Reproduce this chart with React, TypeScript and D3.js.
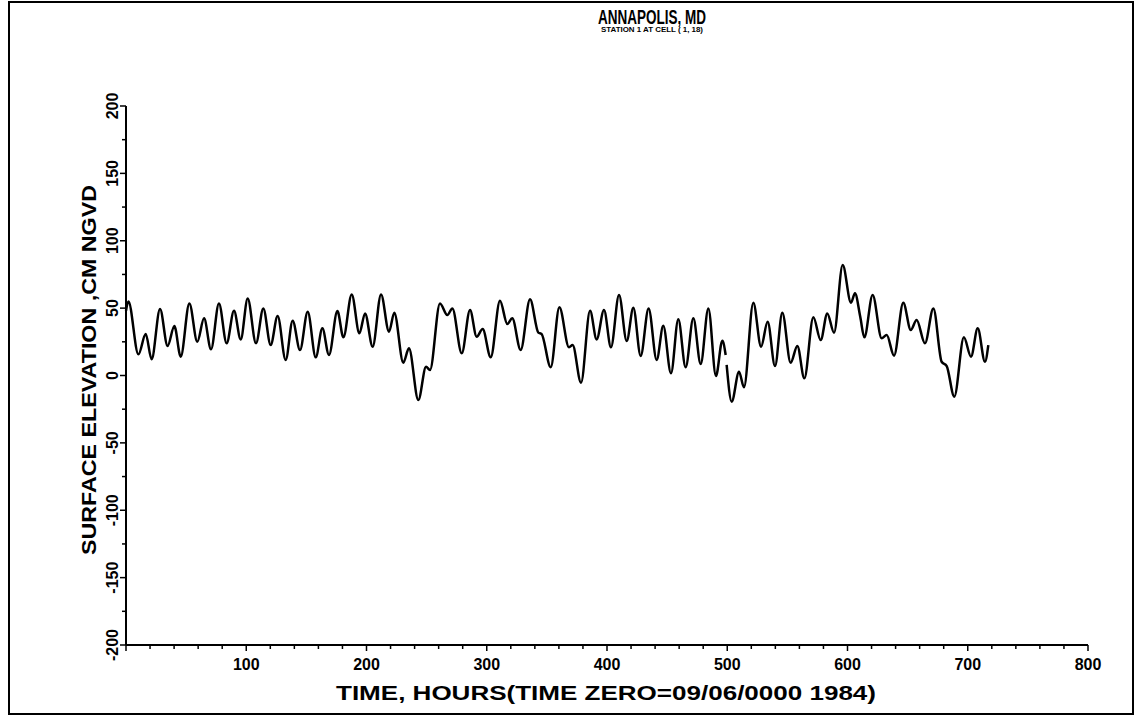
import React from "react";
import * as d3 from "d3";

// hours / elevation (cm NGVD) read at the turning points of the trace
const hoursA = [0, 2, 10.3, 16.4, 21.3, 28.3, 34.6, 40.2, 45.5, 52.7, 59.3, 64.9, 70.7, 77.3, 83.7, 89.8, 95.4, 101.2, 108.1, 114.2, 120.3, 126.1, 132.8, 138.6, 144.7, 151.1, 157.8, 163.3, 168.8, 175.8, 180.8, 187.7, 194.1, 198.8, 205.1, 212.1, 218.7, 223.1, 230.6, 235.3, 243.1, 249.5, 252.8, 261.1, 267.2, 271.4, 279.2, 286.1, 291.6, 296.6, 303.3, 311, 317.1, 321.2, 328.2, 336, 342.9, 345.6, 353.2, 360.4, 368.4, 371.4, 378.4, 385.9, 391.4, 397.5, 403.3, 410, 416.4, 421.9, 428, 434.6, 441.3, 446.8, 453.2, 459.3, 465.4, 471.8, 477.9, 484.3, 490.6, 495.9, 498.7];
const elevA = [48, 55, 15.7, 30.8, 12, 49.3, 21.9, 36.7, 14, 53.5, 25, 42.4, 19.4, 53.5, 23.9, 48, 26.8, 57.2, 23.9, 49.8, 22.6, 44.1, 11.5, 40.7, 18.9, 47.3, 13.5, 35, 15.2, 47.8, 28.3, 60.2, 31.3, 46.1, 21.4, 60.2, 32.5, 46.6, 9.5, 20.2, -18.2, 6.5, 4.1, 53.5, 44.9, 49.8, 16.5, 48.6, 28.8, 34.5, 13.5, 55.5, 38.2, 42.4, 18.9, 56.5, 31.8, 30.8, 6.1, 50.6, 20.9, 22.6, -5.3, 48, 26.8, 48.6, 20.9, 59.7, 25.6, 50.3, 14.5, 49.8, 11.5, 36.9, 1.6, 41.7, 6.1, 42.4, 8.5, 49.8, -0.4, 25.8, 15.2];

const hoursB = [499.5, 503.7, 509.8, 513.9, 521.7, 528.1, 533.6, 539.7, 545.8, 552.7, 558.3, 564.1, 571.6, 577.7, 583.2, 588.8, 596, 602.9, 606.2, 610.6, 614, 620.9, 628.4, 632.6, 638.7, 646.4, 652.6, 657.5, 664.4, 671.4, 678.3, 682.5, 688.8, 696.8, 702.7, 708.3, 714.3, 717.1];
const elevB = [7.8, -19.4, 2.8, -8.8, 54, 21.4, 39.9, 7, 46.6, 9.5, 21.9, -2.1, 43.2, 26.3, 46.1, 31.8, 82, 54, 61, 43.6, 28.3, 59.7, 27.6, 30, 14.7, 54, 33.8, 41.2, 23.9, 49.8, 10.2, 7, -15.7, 28.3, 14, 35, 10.2, 22.6];

const xTicks = [100, 200, 300, 400, 500, 600, 700, 800];
const yTicks = [-200, -150, -100, -50, 0, 50, 100, 150, 200];

const W = 1137;
const H = 716;
const font = "'Liberation Sans Narrow', 'Liberation Sans', Arial, sans-serif";

export default function App() {
	const x = d3.scaleLinear().domain([0, 800]).range([126, 1088]);
	const y = d3.scaleLinear().domain([-200, 200]).range([645, 106]);

	const line = d3
		.line<[number, number]>()
		.x((d) => x(d[0]))
		.y((d) => y(d[1]))
		.curve(d3.curveMonotoneX);

	const segA = hoursA.map((h, i) => [h, elevA[i]] as [number, number]);
	const segB = hoursB.map((h, i) => [h, elevB[i]] as [number, number]);

	const xMinor = d3.range(0, 801, 20);
	const yMinor = d3.range(-200, 201, 25);

	return (
		<svg
			width={W}
			height={H}
			style={{position: "absolute", left: 0, top: 0, background: "#fff"}}
		>
			{/* outer frame */}
			<rect x={9} y={2} width={1124} height={712} fill="none" stroke="#000" strokeWidth={2} />

			{/* title */}
			<text x={652} y={24} textAnchor="middle" fontFamily={font} fontWeight="bold" fontSize={20} textLength={108} lengthAdjust="spacingAndGlyphs">
				ANNAPOLIS, MD
			</text>
			<text x={652} y={32} textAnchor="middle" fontFamily={font} fontWeight="bold" fontSize={7} textLength={102} lengthAdjust="spacingAndGlyphs">
				STATION  1 AT CELL (  1,  18)
			</text>

			{/* axes */}
			<line x1={x(0)} x2={x(0)} y1={y(200)} y2={y(-200)} stroke="#000" strokeWidth={2} />
			<line x1={x(0)} x2={x(800)} y1={y(-200)} y2={y(-200)} stroke="#000" strokeWidth={2} />

			{yMinor.map((v) => (
				<line key={"ym" + v} x1={x(0) - (v % 50 === 0 ? 6 : 4)} x2={x(0)} y1={y(v)} y2={y(v)} stroke="#000" strokeWidth={1.5} />
			))}
			{xMinor.map((v) => (
				<line key={"xm" + v} x1={x(v)} x2={x(v)} y1={y(-200)} y2={y(-200) + (v % 100 === 0 ? 6 : 4)} stroke="#000" strokeWidth={1.5} />
			))}

			{yTicks.map((v) => (
				<text
					key={"yt" + v}
					transform={`translate(118, ${y(v)}) rotate(-90)`}
					textAnchor="middle"
					fontFamily={font}
					fontWeight="bold"
					fontSize={16}
				>
					{v}
				</text>
			))}
			{xTicks.map((v) => (
				<text key={"xt" + v} x={x(v)} y={670} textAnchor="middle" fontFamily={font} fontWeight="bold" fontSize={16}>
					{v}
				</text>
			))}

			{/* axis titles */}
			<text
				transform="translate(96, 370) rotate(-90)"
				textAnchor="middle"
				fontFamily={font}
				fontWeight="bold"
				fontSize={21}
				textLength={370}
				lengthAdjust="spacingAndGlyphs"
			>
				SURFACE ELEVATION ,CM NGVD
			</text>
			<text x={606} y={700} textAnchor="middle" fontFamily={font} fontWeight="bold" fontSize={21} textLength={540} lengthAdjust="spacingAndGlyphs">
				TIME, HOURS(TIME ZERO=09/06/0000 1984)
			</text>

			{/* elevation trace */}
			<path d={line(segA) || ""} fill="none" stroke="#000" strokeWidth={2.5} strokeLinejoin="round" />
			<path d={line(segB) || ""} fill="none" stroke="#000" strokeWidth={2.5} strokeLinejoin="round" />
		</svg>
	);
}
